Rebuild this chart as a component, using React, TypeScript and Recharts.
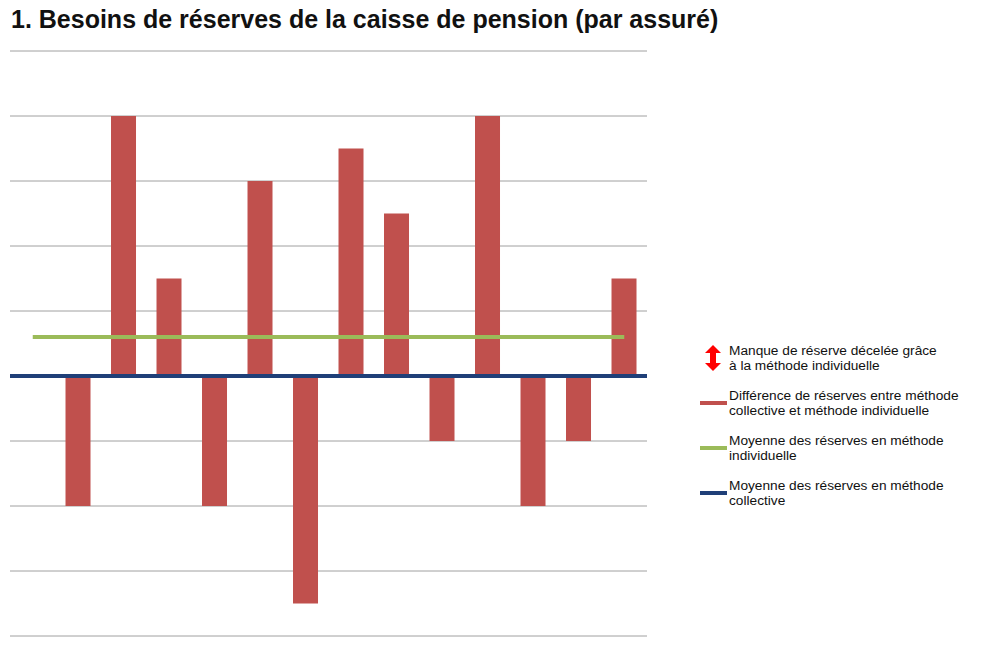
import { ComposedChart, Bar, Line, XAxis, YAxis, CartesianGrid, ReferenceLine } from "recharts";

const categories = ["", "A1", "A2", "A3", "A4", "A5", "A6", "A7", "A8", "A9", "A10", "A11", "A12", "A13"];
const differences = [null, -2, 4, 1.5, -2, 3, -3.5, 3.5, 2.5, -1, 4, -2, -1, 1.5];
const individualAverage = [0.6, 0.6, 0.6, 0.6, 0.6, 0.6, 0.6, 0.6, 0.6, 0.6, 0.6, 0.6, 0.6, 0.6];
const collectiveAverage = 0;
const yTicks = [-4, -3, -2, -1, 0, 1, 2, 3, 4, 5];

const data = categories.map((c, i) => ({ name: c, diff: differences[i], avg: individualAverage[i] }));

const RED = "#C0504D";
const GREEN = "#9BBB59";
const BLUE = "#1F3F78";

const legendItems = [
  { kind: "arrow", color: "#FF0000", lines: ["Manque de réserve décelée grâce", "à la méthode individuelle"] },
  { kind: "line", color: RED, lines: ["Différence de réserves entre méthode", "collective et méthode individuelle"] },
  { kind: "line", color: GREEN, lines: ["Moyenne des réserves en méthode", "individuelle"] },
  { kind: "line", color: BLUE, lines: ["Moyenne des réserves en méthode", "collective"] },
];

function LegendBox() {
  return (
    <div style={{ fontFamily: "'Liberation Sans', Arial, sans-serif", fontSize: 13.7, lineHeight: "15px", color: "#111" }}>
      {legendItems.map((item, i) => (
        <div key={i} style={{ display: "flex", alignItems: "center", marginBottom: 15 }}>
          <div style={{ width: 32, display: "flex", justifyContent: "center" }}>
            {item.kind === "arrow" ? (
              <svg width={16} height={26}>
                <polygon points="8,0 16,8 11,8 11,18 16,18 8,26 0,18 5,18 5,8 0,8" fill={item.color} />
              </svg>
            ) : (
              <div style={{ width: 27, height: 4, background: item.color }} />
            )}
          </div>
          <div>
            {item.lines.map((l, j) => (
              <div key={j}>{l}</div>
            ))}
          </div>
        </div>
      ))}
    </div>
  );
}

export default function App() {
  return (
    <div style={{ position: "absolute", left: 0, top: 0, width: 999, height: 648, background: "#fff" }}>
      <div
        style={{
          position: "absolute",
          left: 11,
          top: 5,
          fontFamily: "'Liberation Sans', Arial, sans-serif",
          fontWeight: "bold",
          fontSize: 25,
          color: "#111",
          whiteSpace: "nowrap",
        }}
      >
        1. Besoins de réserves de la caisse de pension (par assuré)
      </div>
      <ComposedChart
        width={999}
        height={648}
        data={data}
        margin={{ top: 51, left: 10, right: 352, bottom: 12 }}
        barCategoryGap="22%"
      >
        <CartesianGrid vertical={false} stroke="#A0A0A0" strokeWidth={1} />
        <XAxis dataKey="name" hide />
        <YAxis hide domain={[-4, 5]} ticks={yTicks} />
        <Bar dataKey="diff" fill={RED} isAnimationActive={false} />
        <ReferenceLine y={collectiveAverage} stroke={BLUE} strokeWidth={4} />
        <Line dataKey="avg" stroke={GREEN} strokeWidth={4} dot={false} isAnimationActive={false} />
      </ComposedChart>
      <div style={{ position: "absolute", left: 697, top: 343, width: 300 }}>
        <LegendBox />
      </div>
    </div>
  );
}
